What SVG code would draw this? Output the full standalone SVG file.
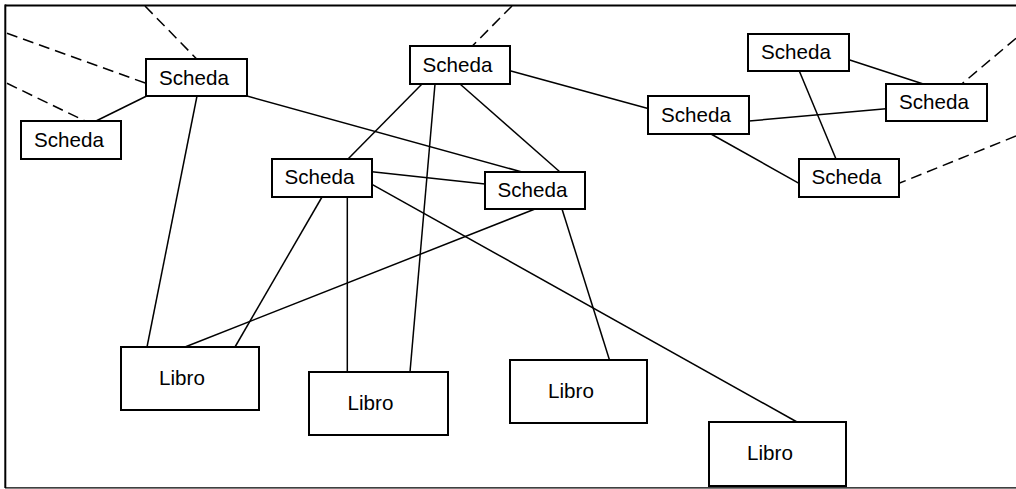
<svg xmlns="http://www.w3.org/2000/svg" width="1016" height="489" viewBox="0 0 1016 489">
<style>
.n rect{fill:#fff;stroke:#000;stroke-width:2}
.n text{font-family:"Liberation Sans",Arial,sans-serif;font-size:20.6px;fill:#000;text-anchor:middle}
.c line{stroke:#000;stroke-width:1.5;fill:none}
.c line.d{stroke-dasharray:11 6}
</style>
<rect width="1016" height="489" fill="#fff"/>
<g id="frame" stroke="#000" fill="none">
<line x1="5" y1="5.5" x2="1016" y2="5.5" stroke-width="2"/>
<line x1="5.3" y1="4.5" x2="5.3" y2="488" stroke-width="2"/>
<line x1="5" y1="487.8" x2="1016" y2="487.8" stroke-width="1.3"/>
</g>
<g id="connectors" class="c">
<line x1="96" y1="121" x2="146.7" y2="96"/>
<line x1="197" y1="96" x2="147" y2="347"/>
<line x1="247" y1="96" x2="522" y2="172"/>
<line x1="422" y1="84" x2="348" y2="159"/>
<line x1="435" y1="84" x2="410" y2="372"/>
<line x1="460" y1="84" x2="560" y2="172"/>
<line x1="510" y1="70.7" x2="648" y2="108.5"/>
<line x1="372" y1="171.7" x2="485" y2="184"/>
<line x1="372" y1="184.3" x2="797" y2="422"/>
<line x1="322" y1="197" x2="235" y2="347"/>
<line x1="347.3" y1="197" x2="347.3" y2="372"/>
<line x1="535" y1="209" x2="185" y2="347"/>
<line x1="562" y1="209" x2="609.5" y2="360"/>
<line x1="799.3" y1="71" x2="836" y2="159"/>
<line x1="849" y1="59.7" x2="923.3" y2="84"/>
<line x1="749" y1="121" x2="886" y2="108.7"/>
<line x1="711" y1="134" x2="799" y2="183.3"/>
<line class="d" x1="145" y1="6" x2="196.7" y2="59"/>
<line class="d" x1="7" y1="33.3" x2="146" y2="83.3"/>
<line class="d" x1="7" y1="83.3" x2="85" y2="121"/>
<line class="d" x1="512" y1="6" x2="472.3" y2="46"/>
<line class="d" x1="1016" y1="38.3" x2="961.7" y2="84"/>
<line class="d" x1="1016" y1="136" x2="899" y2="183.3"/>
</g>
<g id="scheda-a" class="n"><rect x="146" y="59" width="101" height="37"/><text x="194" y="84.5">Scheda</text></g>
<g id="scheda-b" class="n"><rect x="21" y="121" width="100" height="38"/><text x="69" y="146.5">Scheda</text></g>
<g id="scheda-c" class="n"><rect x="410" y="46" width="100" height="38"/><text x="457.5" y="72">Scheda</text></g>
<g id="scheda-d" class="n"><rect x="272" y="159" width="100" height="38"/><text x="319.5" y="184">Scheda</text></g>
<g id="scheda-e" class="n"><rect x="485" y="172" width="100" height="37"/><text x="532.5" y="197">Scheda</text></g>
<g id="scheda-f" class="n"><rect x="748" y="34" width="101" height="37"/><text x="796" y="59">Scheda</text></g>
<g id="scheda-g" class="n"><rect x="648" y="96" width="101" height="38"/><text x="696" y="121.7">Scheda</text></g>
<g id="scheda-h" class="n"><rect x="886" y="84" width="101" height="37"/><text x="934" y="108.7">Scheda</text></g>
<g id="scheda-i" class="n"><rect x="799" y="159" width="100" height="38"/><text x="846.5" y="184.3">Scheda</text></g>
<g id="libro-1" class="n"><rect x="121" y="347" width="138" height="63"/><text x="182" y="385">Libro</text></g>
<g id="libro-2" class="n"><rect x="309" y="372" width="139" height="63"/><text x="370.5" y="410">Libro</text></g>
<g id="libro-3" class="n"><rect x="510" y="360" width="137" height="63"/><text x="571" y="398">Libro</text></g>
<g id="libro-4" class="n"><rect x="709" y="422" width="137" height="64"/><text x="770" y="460">Libro</text></g>
</svg>
